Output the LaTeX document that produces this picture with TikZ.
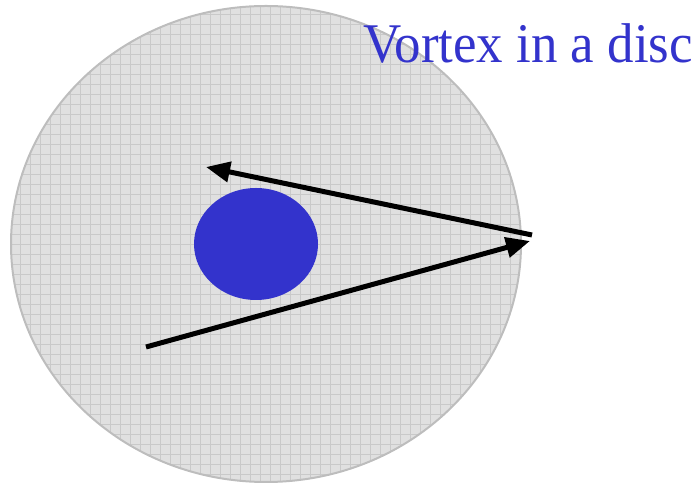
\documentclass[tikz,border=0pt]{standalone}
\usepackage{fontspec}
\setmainfont{Liberation Serif}
\usetikzlibrary{arrows.meta,shapes.geometric}
\definecolor{vblue}{HTML}{3333CC}
\definecolor{discfill}{HTML}{E0E0E0}
\definecolor{gridc}{HTML}{C9C9C9}
\definecolor{discedge}{HTML}{BDBDBD}
\begin{document}
\begin{tikzpicture}[x=1pt,y=1pt,
  arr/.style={line width=5pt,-{Triangle[length=24pt,width=20pt]}},
  title/.style={text=vblue,font=\fontsize{56}{60}\selectfont,inner sep=0pt,anchor=base west}]
\useasboundingbox (0,0) rectangle (699,484);
\fill[discfill] (266,240) ellipse [x radius=255, y radius=238];
\begin{scope}
\clip (266,240) ellipse [x radius=255, y radius=238];
\draw[gridc,line width=0.6pt,step=10pt] (0,0) grid (699,484);
\end{scope}
\draw[discedge,line width=2pt] (266,240) ellipse [x radius=255, y radius=238];
\node[fill=vblue,ellipse,minimum width=124pt,minimum height=112pt,inner sep=0pt] (core) at (256,240) {};
\coordinate (a0) at (146,137);
\coordinate (a1) at (530,243);
\coordinate (b0) at (532,249);
\coordinate (b1) at (206,317);
\draw[arr] (a0) -- (a1);
\draw[arr] (b0) -- (b1);
\node[title,xscale=0.945] (t) at (363,421) {Vortex in a disc};
\end{tikzpicture}
\end{document}
